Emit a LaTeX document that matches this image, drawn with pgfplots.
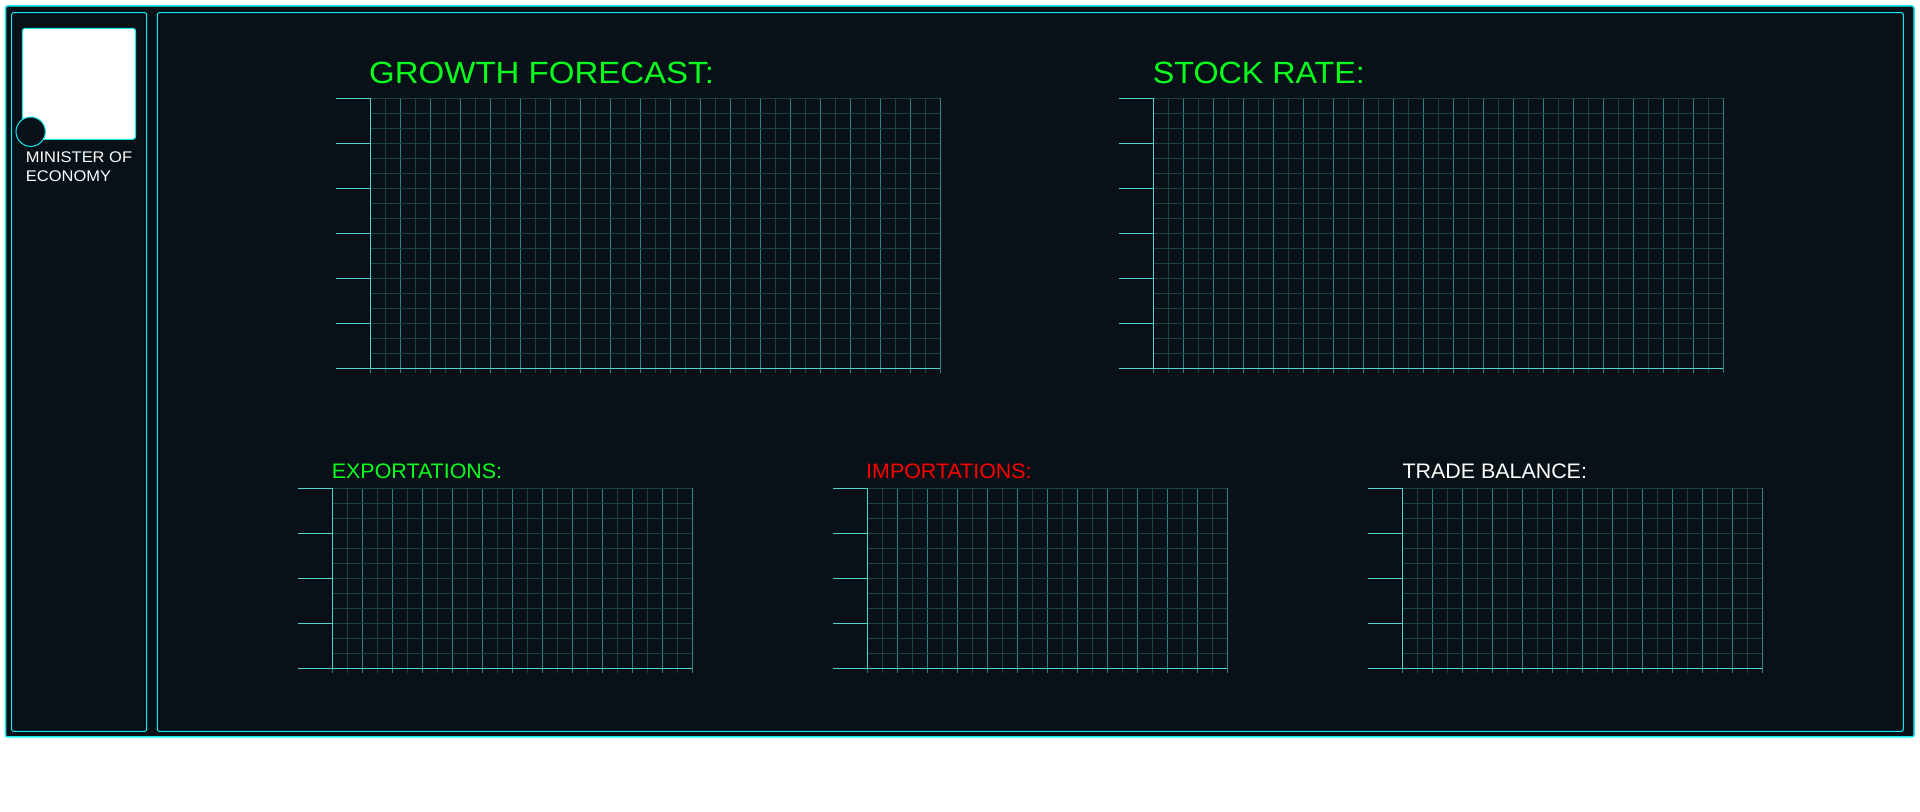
\documentclass[border=0pt]{standalone}
\usepackage{pgfplots}
\pgfplotsset{compat=1.18}
\usepackage{fontspec}
\setmainfont{Liberation Sans}
\definecolor{bg}{RGB}{7,17,23}
\definecolor{framec}{RGB}{20,235,240}
\definecolor{axisc}{RGB}{84,212,200}
\definecolor{gmaj}{RGB}{44,132,128}
\definecolor{gmin}{RGB}{30,66,66}
\definecolor{tgreen}{RGB}{10,255,30}
\definecolor{tred}{RGB}{255,0,0}
\pgfplotsset{
  vgrid/.style n args={4}{
    scale only axis, anchor=south west, width=#1, height=#2,
    xmin=0, xmax=#3, ymin=0, ymax=#4,
    xtick={0,2,...,#3}, minor x tick num=1, ytick=\empty,
    xmajorgrids, xminorgrids,
    major grid style={gmaj, line width=1bp},
    minor grid style={gmin, line width=1bp},
    tick align=outside, xtick pos=left,
    major tick length=5bp, minor tick length=5bp,
    major tick style={gmaj, line width=1bp},
    minor tick style={gmin, line width=1bp},
    xticklabels={},
    axis line style={draw=none},
  },
  hgrid/.style n args={4}{
    scale only axis, anchor=south west, width=#1, height=#2,
    xmin=0, xmax=#3, ymin=0, ymax=#4,
    xtick=\empty, ytick={0,...,#4}, ymajorgrids,
    major grid style={gmin, line width=1bp},
    major tick length=0pt, yticklabels={},
    extra y ticks={0,3,...,#4}, extra y tick labels={},
    extra y tick style={grid=none, major tick length=34bp, tick align=outside,
      major tick style={axisc, line width=1.3bp}},
    axis x line*=bottom, axis y line*=left,
    axis line style={axisc, line width=1.5bp},
  },
}
\begin{document}
\begin{tikzpicture}[x=1bp,y=1bp]
\fill[white] (0,0) rectangle (1920,812);
\path[use as bounding box] (0,0) rectangle (1920,812);
% frames
\draw[framec, line width=1.5bp, fill=bg, rounded corners=2bp] (5.5,806) rectangle (1914,75);
\draw[framec, line width=1bp, fill=bg, rounded corners=2bp] (11.7,799.3) rectangle (146.7,80.7);
\draw[framec, line width=1bp, fill=bg, rounded corners=2bp] (157.3,799.3) rectangle (1903.3,80.7);
% portrait
\draw[framec, line width=1bp, fill=white, rounded corners=3bp] (22.3,783.7) rectangle (135.7,672.7);
\draw[framec, line width=1bp, fill=bg] (30.7,680.3) circle (14.7);
\node[anchor=base west, inner sep=0, text=white, font=\fontsize{15.4bp}{18bp}\selectfont, xscale=1.07] at (25.7,649.3) {MINISTER OF};
\node[anchor=base west, inner sep=0, text=white, font=\fontsize{15.4bp}{18bp}\selectfont, xscale=1.07] at (25.7,630.3) {ECONOMY};
% titles
\node[anchor=base west, inner sep=0, text=tgreen, font=\fontsize{30.7bp}{36bp}\selectfont, xscale=1.075] at (369,728.7) {GROWTH FORECAST:};
\node[anchor=base west, inner sep=0, text=tgreen, font=\fontsize{30.7bp}{36bp}\selectfont, xscale=1.05] at (1152.7,728.7) {STOCK RATE:};
\node[anchor=base west, inner sep=0, text=tgreen, font=\fontsize{21bp}{25bp}\selectfont, xscale=1.02] at (331.7,333.7) {EXPORTATIONS:};
\node[anchor=base west, inner sep=0, text=tred, font=\fontsize{21bp}{25bp}\selectfont, xscale=1.02] at (866,333.7) {IMPORTATIONS:};
\node[anchor=base west, inner sep=0, text=white, font=\fontsize{21bp}{25bp}\selectfont, xscale=1.02] at (1402.3,333.7) {TRADE BALANCE:};
% Growth forecast
\begin{axis}[vgrid={570bp}{270bp}{38}{18}, at={(370.3bp,443.7bp)}]
\end{axis}
\begin{axis}[hgrid={570bp}{270bp}{38}{18}, at={(370.3bp,443.7bp)}]
\end{axis}
% Stock rate
\begin{axis}[vgrid={570bp}{270bp}{38}{18}, at={(1153.3bp,443.7bp)}]
\end{axis}
\begin{axis}[hgrid={570bp}{270bp}{38}{18}, at={(1153.3bp,443.7bp)}]
\end{axis}
% Exportations
\begin{axis}[vgrid={360bp}{180bp}{24}{12}, at={(332.3bp,143.7bp)}]
\end{axis}
\begin{axis}[hgrid={360bp}{180bp}{24}{12}, at={(332.3bp,143.7bp)}]
\end{axis}
% Importations
\begin{axis}[vgrid={360bp}{180bp}{24}{12}, at={(867.3bp,143.7bp)}]
\end{axis}
\begin{axis}[hgrid={360bp}{180bp}{24}{12}, at={(867.3bp,143.7bp)}]
\end{axis}
% Trade balance
\begin{axis}[vgrid={360bp}{180bp}{24}{12}, at={(1402.3bp,143.7bp)}]
\end{axis}
\begin{axis}[hgrid={360bp}{180bp}{24}{12}, at={(1402.3bp,143.7bp)}]
\end{axis}
\end{tikzpicture}
\end{document}
